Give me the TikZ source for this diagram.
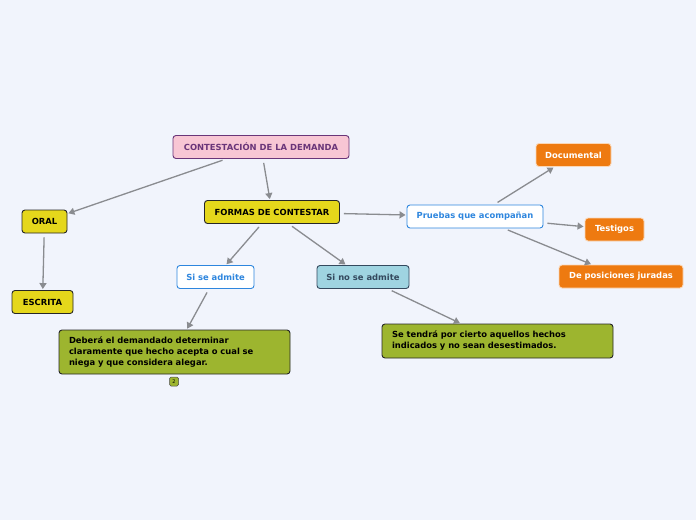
\documentclass[tikz,border=0pt]{standalone}
\usepackage{fontspec}
\setmainfont{DejaVu Sans}
\usetikzlibrary{arrows.meta}

\definecolor{fondo}{HTML}{F1F4FC}
\definecolor{rosa}{HTML}{F8C6D4}
\definecolor{morado}{HTML}{6A3579}
\definecolor{amarillo}{HTML}{E5D71B}
\definecolor{azul}{HTML}{2E86DE}
\definecolor{celeste}{HTML}{9FD4E1}
\definecolor{pizarra}{HTML}{34495E}
\definecolor{oliva}{HTML}{9DB52F}
\definecolor{naranja}{HTML}{EE7A10}
\definecolor{linea}{HTML}{8A8C90}

\begin{document}
\begin{tikzpicture}[x=1pt,y=-1pt,
  every node/.style={font=\fontsize{8.4}{11}\selectfont\bfseries, rounded corners=3pt, line width=0.9pt, minimum height=23pt},
  rosabox/.style={draw=morado, fill=rosa, text=morado},
  amabox/.style={draw=black!85, fill=amarillo},
  blancobox/.style={draw=azul, fill=white, text=azul},
  celestebox/.style={draw=pizarra, fill=celeste, text=pizarra},
  olivabox/.style={draw=black!85, fill=oliva, align=left, inner xsep=10pt},
  narbox/.style={draw=naranja!30, fill=naranja, text=white},
  flecha/.style={draw=linea, line width=1.3pt, -{Triangle[length=6pt,width=7pt]}, shorten <=4pt, shorten >=1pt}]
\fill[fondo] (0,0) rectangle (696,520);
% nodos
\node[rosabox, minimum width=176pt] (demanda) at (261,147) {CONTESTACIÓN DE LA DEMANDA};
\node[amabox, minimum width=135pt] (formas) at (272,212) {FORMAS DE CONTESTAR};
\node[amabox, minimum width=45pt] (oral) at (44.5,221.5) {ORAL};
\node[amabox, minimum width=61pt] (escrita) at (42.5,302) {ESCRITA};
\node[blancobox, minimum width=77pt] (admite) at (215.5,277) {Si se admite};
\node[celestebox, minimum width=92pt] (noadmite) at (363,277) {Si no se admite};
\node[blancobox, minimum width=136pt] (pruebas) at (475,216.5) {Pruebas que acompañan};
\node[narbox, minimum width=75pt] (documental) at (573.5,155) {Documental};
\node[narbox, minimum width=59pt] (testigos) at (614.5,229.5) {Testigos};
\node[narbox, minimum width=124pt] (posiciones) at (621,276.5) {De posiciones juradas};
\node[olivabox, text width=211pt, minimum height=44pt] (debera) at (174.5,352) {Deberá el demandado determinar\\claramente que hecho acepta o cual se\\niega y que considera alegar.};
\node[olivabox, text width=211pt, minimum height=34pt] (tendra) at (497.5,341) {Se tendrá por cierto aquellos hechos\\indicados y no sean desestimados.};
\node[draw=black!70, fill=oliva, font=\fontsize{5}{6}\selectfont, rounded corners=1.5pt, line width=0.5pt, inner sep=1pt, minimum width=9pt, minimum height=9pt] (nota) at (174,381.5) {2};
% conectores
\draw[flecha] (demanda) -- (oral);
\draw[flecha] (demanda) -- (formas);
\draw[flecha] (oral) -- (escrita);
\draw[flecha] (formas) -- (admite);
\draw[flecha] (formas) -- (noadmite);
\draw[flecha] (formas) -- (pruebas);
\draw[flecha] (admite) -- (debera);
\draw[flecha] (noadmite) -- (tendra);
\draw[flecha] (pruebas) -- (documental);
\draw[flecha] (pruebas) -- (testigos);
\draw[flecha] (pruebas) -- (posiciones);
\end{tikzpicture}
\end{document}
